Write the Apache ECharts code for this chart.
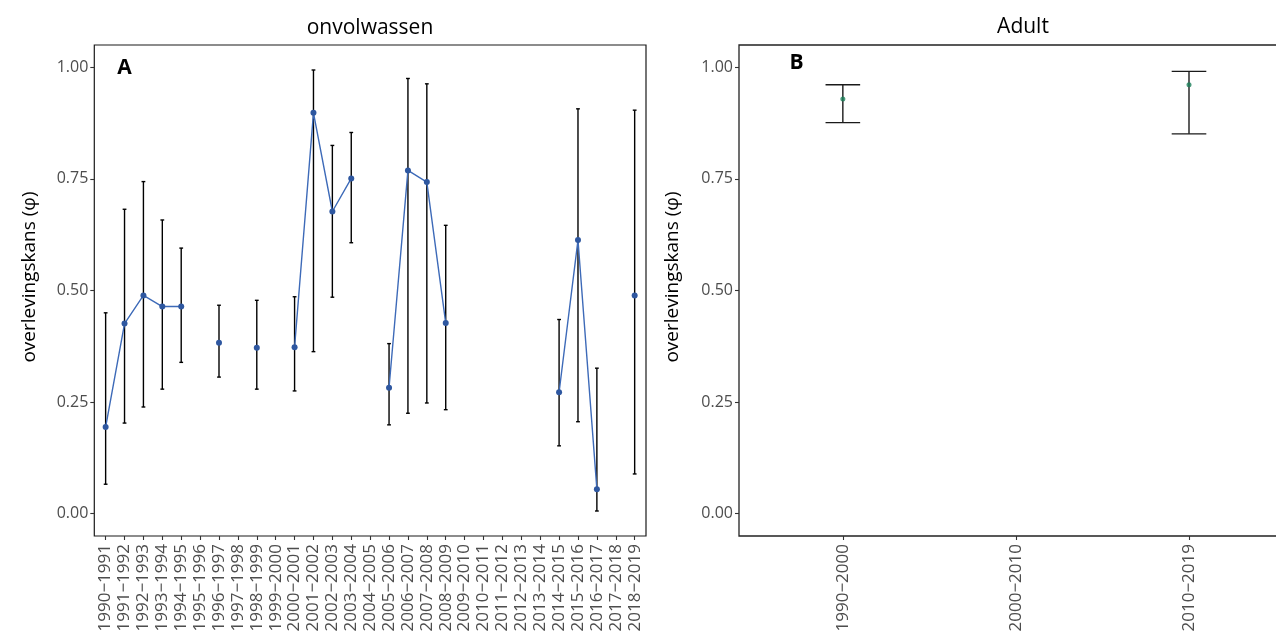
<!DOCTYPE html>
<html>
<head>
<meta charset="utf-8">
<script src="https://cdn.jsdelivr.net/npm/echarts@6/dist/echarts.min.js"></script>
<style>
html,body{margin:0;padding:0;background:#fff;}
#chart{width:1279px;height:635px;}
</style>
</head>
<body>
<div id="chart"></div>
<script>
// ---------- data ----------
const juvCats = ['1990−1991','1991−1992','1992−1993','1993−1994','1994−1995','1995−1996','1996−1997','1997−1998','1998−1999','1999−2000','2000−2001','2001−2002','2002−2003','2003−2004','2004−2005','2005−2006','2006−2007','2007−2008','2008−2009','2009−2010','2010−2011','2011−2012','2012−2013','2013−2014','2014−2015','2015−2016','2016−2017','2017−2018','2018−2019'];
const juvEst  = [0.194,0.426,0.489,0.464,0.464,null,0.383,null,0.372,null,0.373,0.898,0.677,0.751,null,0.282,0.769,0.743,0.427,null,null,null,null,null,0.272,0.613,0.055,null,0.489];
const juvLow  = [0.066,0.203,0.239,0.279,0.339,null,0.306,null,0.279,null,0.275,0.363,0.485,0.607,null,0.199,0.225,0.248,0.233,null,null,null,null,null,0.152,0.206,0.006,null,0.089];
const juvHigh = [0.450,0.682,0.744,0.658,0.595,null,0.467,null,0.478,null,0.486,0.994,0.825,0.854,null,0.381,0.975,0.963,0.646,null,null,null,null,null,0.435,0.907,0.326,null,0.904];

const adCats = ['1990−2000','2000−2010','2010−2019'];
const adEst  = [0.929,null,0.961];
const adLow  = [0.876,null,0.851];
const adHigh = [0.961,null,0.991];

const yTicks = [0, 0.25, 0.50, 0.75, 1.00];
const titleLeft = 'onvolwassen';
const titleRight = 'Adult';
const yName = 'overlevingskans (φ)';

// ---------- helpers ----------
const FONT = '"Open Sans", "Noto Sans", sans-serif';
const juvIdx = juvCats.map((c, i) => i);
const adIdx = adCats.map((c, i) => i);

function errData(est, lo, hi) {
  const out = [];
  est.forEach((v, i) => { if (v !== null && lo[i] !== null) out.push([i, lo[i], hi[i]]); });
  return out;
}
function lineData(est) {
  return est.map((v, i) => [i, v === null ? '-' : v]);
}
function errRender(color, lw) {
  return function (params, api) {
    const x = api.value(0), lo = api.value(1), hi = api.value(2);
    const pLo = api.coord([x, lo]);
    const pHi = api.coord([x, hi]);
    const hw = api.size([0.2, 0])[0] / 2;
    const style = { stroke: color, lineWidth: lw, fill: null };
    return {
      type: 'group',
      children: [
        { type: 'line', shape: { x1: pLo[0], y1: pLo[1], x2: pHi[0], y2: pHi[1] }, style: style },
        { type: 'line', shape: { x1: pLo[0] - hw, y1: pLo[1], x2: pLo[0] + hw, y2: pLo[1] }, style: style },
        { type: 'line', shape: { x1: pHi[0] - hw, y1: pHi[1], x2: pHi[0] + hw, y2: pHi[1] }, style: style }
      ]
    };
  };
}
function xAxisCfg(gridIndex, cats, idx, min, max) {
  return {
    type: 'value', gridIndex: gridIndex, min: min, max: max, position: 'bottom',
    axisLine: { show: false, onZero: false },
    splitLine: { show: false },
    axisTick: { show: true, length: 4, customValues: idx, lineStyle: { color: '#333', width: 1.1 } },
    axisLabel: {
      customValues: idx, rotate: 90, margin: 8,
      fontSize: 17, fontFamily: FONT, color: '#4d4d4d',
      formatter: v => cats[Math.round(v)]
    }
  };
}
function yAxisCfg(gridIndex) {
  return {
    type: 'value', gridIndex: gridIndex, min: -0.05, max: 1.05, position: 'left',
    axisLine: { show: false, onZero: false },
    splitLine: { show: false },
    axisTick: { show: true, length: 4, customValues: yTicks, lineStyle: { color: '#333', width: 1.1 } },
    axisLabel: {
      customValues: yTicks, margin: 6,
      fontSize: 16, fontFamily: FONT, color: '#4d4d4d',
      formatter: v => Number(v).toFixed(2)
    }
  };
}

const chart = echarts.init(document.getElementById('chart'), null, { renderer: 'canvas' });
chart.setOption({
  animation: false,
  backgroundColor: '#fff',
  grid: [
    { left: 94.3, top: 45, width: 551.7, height: 491, show: true, borderColor: '#1a1a1a', borderWidth: 1.2, backgroundColor: 'transparent' },
    { left: 739, top: 45, right: 0, height: 491, show: true, borderColor: '#222', borderWidth: 1.3, backgroundColor: 'transparent' }
  ],
  xAxis: [
    xAxisCfg(0, juvCats, juvIdx, -0.6, juvCats.length - 1 + 0.6),
    xAxisCfg(1, adCats, adIdx, -0.6, 2.52)
  ],
  yAxis: [yAxisCfg(0), yAxisCfg(1)],
  series: [
    {
      type: 'custom', name: 'juv-ci', xAxisIndex: 0, yAxisIndex: 0,
      renderItem: errRender('#000', 1.4),
      encode: { x: 0, y: [1, 2] },
      data: errData(juvEst, juvLow, juvHigh), z: 2
    },
    {
      type: 'line', name: titleLeft, xAxisIndex: 0, yAxisIndex: 0,
      data: lineData(juvEst), connectNulls: false,
      lineStyle: { color: '#3D6AB8', width: 1.4 },
      symbol: 'circle', symbolSize: 6, showSymbol: true,
      itemStyle: { color: '#2E57A0' }, z: 3
    },
    {
      type: 'custom', name: 'ad-ci', xAxisIndex: 1, yAxisIndex: 1,
      renderItem: errRender('#1a1a1a', 1.4),
      encode: { x: 0, y: [1, 2] },
      data: errData(adEst, adLow, adHigh), z: 2
    },
    {
      type: 'scatter', name: titleRight, xAxisIndex: 1, yAxisIndex: 1,
      data: adEst.map((v, i) => [i, v === null ? '-' : v]),
      symbol: 'circle', symbolSize: 5,
      itemStyle: { color: '#1B7F5A' }, z: 3
    }
  ],
  graphic: [
    // the right panel continues past the picture edge: hide the clipped right border
    { type: 'rect', right: 0, top: 40, z: 100, shape: { width: 3, height: 500 }, style: { fill: '#fff' } },
    { type: 'text', x: 370, y: 28, style: { text: titleLeft, font: '21px ' + FONT, fill: '#000', align: 'center', verticalAlign: 'middle' } },
    { type: 'text', x: 1023, y: 27, style: { text: titleRight, font: '21px ' + FONT, fill: '#000', align: 'center', verticalAlign: 'middle' } },
    { type: 'text', x: 30, y: 277, rotation: Math.PI / 2, style: { text: yName, font: '19px ' + FONT, fill: '#000', align: 'center', verticalAlign: 'middle' } },
    { type: 'text', x: 673, y: 277, rotation: Math.PI / 2, style: { text: yName, font: '19px ' + FONT, fill: '#000', align: 'center', verticalAlign: 'middle' } },
    { type: 'text', x: 124.5, y: 68, style: { text: 'A', font: 'bold 21px ' + FONT, fill: '#000', align: 'center', verticalAlign: 'middle' } },
    { type: 'text', x: 796.5, y: 63, style: { text: 'B', font: 'bold 21px ' + FONT, fill: '#000', align: 'center', verticalAlign: 'middle' } }
  ]
});
</script>
</body>
</html>
